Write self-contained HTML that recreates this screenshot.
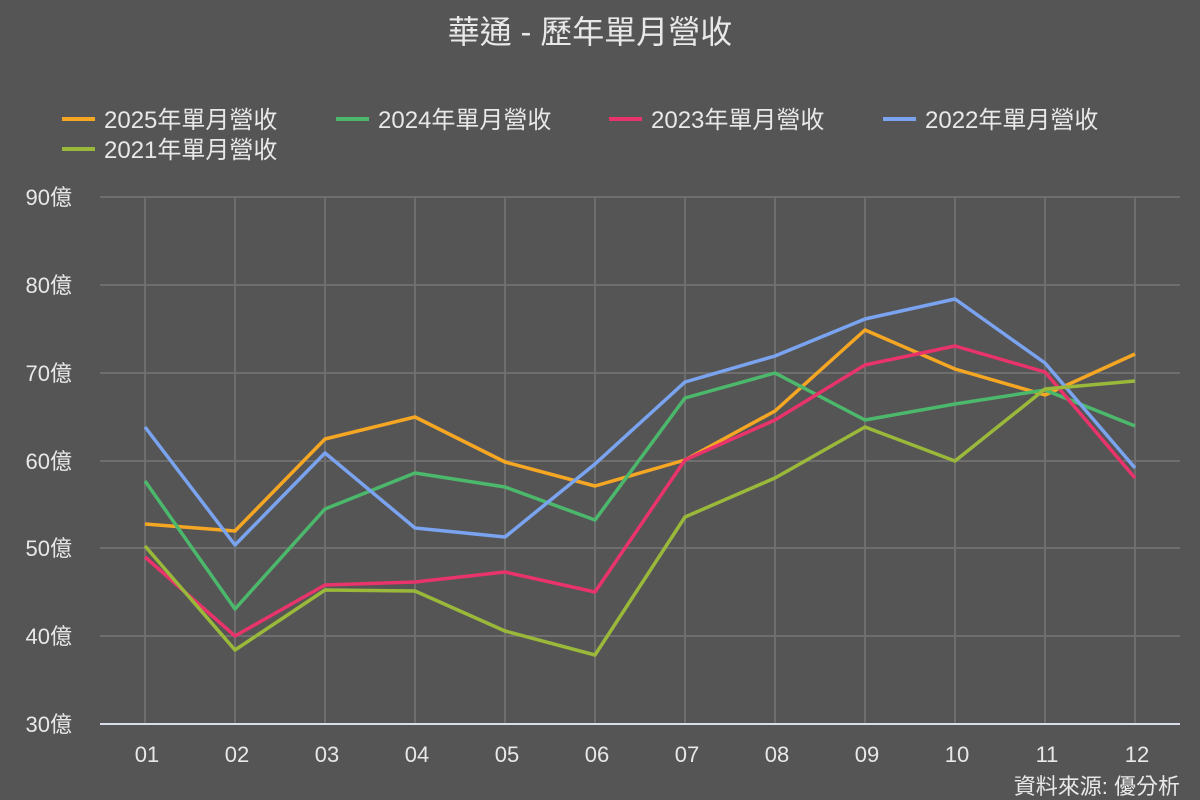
<!DOCTYPE html>
<html><head><meta charset="utf-8"><style>
html,body{margin:0;padding:0;background:#555555;}
svg{display:block;font-family:"Liberation Sans","Noto Sans CJK TC",sans-serif;}
</style></head><body>
<svg width="1200" height="800" viewBox="0 0 1200 800">
<rect width="1200" height="800" fill="#555555"/>
<text x="590" y="43" text-anchor="middle" font-size="32" fill="#e8e8e8">華通 - 歷年單月營收</text>
<g font-size="24" fill="#e8e8e8">
<line x1="62" y1="119" x2="95" y2="119" stroke="#f5a623" stroke-width="4"/><text x="104" y="128">2025年單月營收</text>
<line x1="336" y1="119" x2="369" y2="119" stroke="#4cb86b" stroke-width="4"/><text x="378" y="128">2024年單月營收</text>
<line x1="609" y1="119" x2="642" y2="119" stroke="#e8336b" stroke-width="4"/><text x="651" y="128">2023年單月營收</text>
<line x1="883" y1="119" x2="916" y2="119" stroke="#7aa3f0" stroke-width="4"/><text x="925" y="128">2022年單月營收</text>
<line x1="62" y1="149" x2="95" y2="149" stroke="#9ab83a" stroke-width="4"/><text x="104" y="158">2021年單月營收</text>
</g>
<g stroke="#6e6e6e" stroke-width="2">
<line x1="100" y1="197" x2="1180" y2="197"/><line x1="100" y1="285" x2="1180" y2="285"/><line x1="100" y1="373" x2="1180" y2="373"/><line x1="100" y1="461" x2="1180" y2="461"/><line x1="100" y1="548" x2="1180" y2="548"/><line x1="100" y1="636" x2="1180" y2="636"/>
<line x1="145" y1="197" x2="145" y2="724"/><line x1="235" y1="197" x2="235" y2="724"/><line x1="325" y1="197" x2="325" y2="724"/><line x1="415" y1="197" x2="415" y2="724"/><line x1="505" y1="197" x2="505" y2="724"/><line x1="595" y1="197" x2="595" y2="724"/><line x1="685" y1="197" x2="685" y2="724"/><line x1="775" y1="197" x2="775" y2="724"/><line x1="865" y1="197" x2="865" y2="724"/><line x1="955" y1="197" x2="955" y2="724"/><line x1="1045" y1="197" x2="1045" y2="724"/><line x1="1135" y1="197" x2="1135" y2="724"/>
</g>
<line x1="100" y1="724" x2="1180" y2="724" stroke="#d8dde8" stroke-width="2"/>
<g font-size="22" fill="#e8e8e8" text-anchor="end">
<text x="72" y="205">90億</text><text x="72" y="293">80億</text><text x="72" y="381">70億</text><text x="72" y="469">60億</text><text x="72" y="556">50億</text><text x="72" y="644">40億</text><text x="72" y="732">30億</text>
</g>
<g font-size="22" fill="#e8e8e8" text-anchor="middle">
<text x="147" y="762">01</text><text x="237" y="762">02</text><text x="327" y="762">03</text><text x="417" y="762">04</text><text x="507" y="762">05</text><text x="597" y="762">06</text><text x="687" y="762">07</text><text x="777" y="762">08</text><text x="867" y="762">09</text><text x="957" y="762">10</text><text x="1047" y="762">11</text><text x="1137" y="762">12</text>
</g>
<text x="1180" y="794" text-anchor="end" font-size="22" fill="#e8e8e8">資料來源: 優分析</text>
<g fill="none" stroke-width="3.5" stroke-linejoin="round">
<polyline stroke="#f5a623" points="145,524 235,531 325,439 415,417 505,462 595,486 685,460 775,411 865,330 955,369 1045,395 1135,354"/>
<polyline stroke="#4cb86b" points="145,481 235,609 325,509 415,473 505,487 595,520 685,398 775,373 865,420 955,404 1045,390 1135,426"/>
<polyline stroke="#e8336b" points="145,557 235,636 325,585 415,582 505,572 595,592 685,460 775,420 865,365 955,346 1045,372 1135,478"/>
<polyline stroke="#7aa3f0" points="145,427 235,545 325,453 415,528 505,537 595,464 685,382 775,356 865,319 955,299 1045,363 1135,468"/>
<polyline stroke="#9ab83a" points="145,546 235,650 325,590 415,591 505,631 595,655 685,517 775,478 865,427 955,461 1045,389 1135,381"/>
</g>
</svg>
</body></html>
